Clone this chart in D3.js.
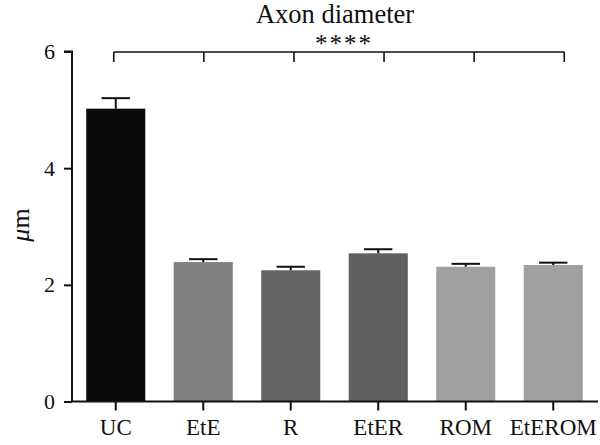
<!DOCTYPE html>
<html><head><meta charset="utf-8">
<script src="https://cdn.jsdelivr.net/npm/d3@7"></script>
<style>body{margin:0;background:#fff}svg{display:block}text{font-family:"Liberation Serif","Times New Roman",serif;fill:#111}</style>
</head><body><svg id="c" width="600" height="445"></svg>
<script>
const categories = ["UC","EtE","R","EtER","ROM","EtEROM"];
const values = [5.02, 2.39, 2.25, 2.54, 2.31, 2.34];
const errors = [0.18, 0.05, 0.06, 0.07, 0.05, 0.04];
const colors = ["#0b0b0b","#7f807f","#646464","#606060","#a0a0a2","#a0a0a2"];
const yTicks = [0, 2, 4, 6];
const title = "Axon diameter";
const yLabel = "μm";
const sigText = "****";

const svg = d3.select("#c");
const m = {l:72, r:3, t:52, b:44};
const W = 600, H = 445;
const x = d3.scaleBand().domain(categories).range([m.l, W - m.r]).paddingInner(0.325).paddingOuter(0.1625);
const y = d3.scaleLinear().domain([0, 6]).range([401.5, 51.5]);

// bars
svg.selectAll("rect.bar").data(categories).join("rect")
  .attr("x", d => x(d)).attr("width", x.bandwidth())
  .attr("y", (d,i) => y(values[i])).attr("height", (d,i) => y(0) - y(values[i]))
  .attr("fill", (d,i) => colors[i]);

// error bars (upper only)
const cap = x.bandwidth() * 0.48;
const eb = svg.append("g").attr("stroke", "#111").attr("stroke-width", 2);
categories.forEach((c,i) => {
  const cx = x(c) + x.bandwidth()/2;
  eb.append("line").attr("x1", cx).attr("x2", cx).attr("y1", y(values[i])).attr("y2", y(values[i]+errors[i]));
  eb.append("line").attr("x1", cx-cap/2).attr("x2", cx+cap/2).attr("y1", y(values[i]+errors[i])).attr("y2", y(values[i]+errors[i]));
});

// axes
const yAxis = d3.axisLeft(y).tickValues(yTicks).tickSize(8).tickPadding(9).tickFormat(d3.format("d"));
const gy = svg.append("g").attr("transform", `translate(${m.l},0)`).call(yAxis);
gy.select(".domain").attr("stroke","#111").attr("stroke-width",2).attr("d", `M-8,${y(6)}H0V${y(0)}`);
gy.selectAll(".tick line").attr("stroke","#111").attr("stroke-width",2);
gy.selectAll(".tick text").style("font-size","22px").style("font-family","Liberation Serif").attr("fill","#111");

const xAxis = d3.axisBottom(x).tickSize(9).tickPadding(8);
const gx = svg.append("g").attr("transform", `translate(0,${y(0)})`).call(xAxis);
gx.select(".domain").attr("stroke","#111").attr("stroke-width",2).attr("d", `M${m.l},0H${W-2}`);
gx.selectAll(".tick line").attr("stroke","#111").attr("stroke-width",2);
gx.selectAll(".tick text").style("font-size","23px").style("font-family","Liberation Serif").attr("fill","#111");

// significance bracket
const bx = d3.scaleLinear().domain([0, categories.length-1])
  .range([x(categories[0]) + x.bandwidth()/2 - 2, x(categories[categories.length-1]) + x.bandwidth()/2 + 11]);
const by = y(6) + 0.5;
const br = svg.append("g").attr("stroke","#111").attr("stroke-width",1.6).attr("fill","none");
br.append("line").attr("x1", bx(0)).attr("x2", bx(categories.length-1)).attr("y1", by).attr("y2", by);
categories.forEach((c,i) => {
  br.append("line").attr("x1", bx(i)).attr("x2", bx(i)).attr("y1", by).attr("y2", by+10);
});
svg.append("text").attr("x", 344).attr("y", by - 0.5).attr("text-anchor","middle")
  .style("font-size","25px").style("letter-spacing","2px").text(sigText);

// title
svg.append("text").attr("x", 335).attr("y", 23).attr("text-anchor","middle")
  .style("font-size","26.5px").text(title);

// y label
svg.append("text").attr("transform", "translate(29,225) rotate(-90)").attr("text-anchor","middle")
  .style("font-size","26px").html('<tspan font-style="italic">μ</tspan>m');
</script></body></html>
